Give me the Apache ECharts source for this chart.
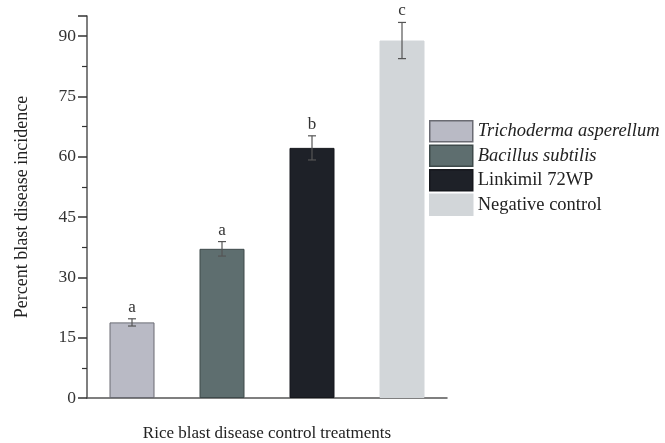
<!DOCTYPE html>
<html><head><meta charset="utf-8">
<script src="https://cdn.jsdelivr.net/npm/echarts@6/dist/echarts.min.js"></script>
<style>html,body{margin:0;padding:0;background:#fff}#c{width:665px;height:443px}</style>
</head><body><div id="c"></div>
<script>
var categories = ['Trichoderma asperellum', 'Bacillus subtilis', 'Linkimil 72WP', 'Negative control'];
var values = [18.8, 37.1, 62.2, 88.9];
var errors = [0.9, 1.8, 3.0, 4.5];
var letters = ['a', 'a', 'b', 'c'];
var colors = ['#b9bac5', '#5e6e6f', '#1e2128', '#d2d6d9'];
var borders = ['#6a6b73', '#3e4a4b', '#15171c', '#d2d6d9'];
var italicNames = [true, true, false, false];
var FONT = 'Liberation Serif';

var series = categories.map(function (name, i) {
  return {
    name: name, type: 'bar', stack: 'all', barWidth: '50%',
    itemStyle: { color: colors[i], borderColor: borders[i], borderWidth: 1 },
    data: values.map(function (v, j) { return j === i ? v : null; })
  };
});
series.push({
  type: 'custom', name: 'err', z: 10,
  data: values.map(function (v, i) { return [i, v - errors[i], v + errors[i], letters[i]]; }),
  encode: { x: 0, y: [1, 2] },
  renderItem: function (params, api) {
    var x = api.value(0);
    var lo = api.coord([x, api.value(1)]);
    var hi = api.coord([x, api.value(2)]);
    var w = 4;
    var st = { stroke: '#555', lineWidth: 1.2 };
    return {
      type: 'group', children: [
        { type: 'line', shape: { x1: hi[0], y1: hi[1], x2: lo[0], y2: lo[1] }, style: st },
        { type: 'line', shape: { x1: hi[0] - w, y1: hi[1], x2: hi[0] + w, y2: hi[1] }, style: st },
        { type: 'line', shape: { x1: lo[0] - w, y1: lo[1], x2: lo[0] + w, y2: lo[1] }, style: st },
        { type: 'text', style: { text: api.value(3), x: hi[0], y: hi[1] - 3, textAlign: 'center', textVerticalAlign: 'bottom', font: '17px "Liberation Serif"', fill: '#333' } }
      ]
    };
  }
});

var chart = echarts.init(document.getElementById('c'));
chart.setOption({
  animation: false,
  backgroundColor: '#fff',
  grid: { left: 87, right: 218, top: 16, bottom: 45, outerBoundsMode: 'none', containLabel: false },
  legend: {
    data: categories, orient: 'vertical', left: 429, top: 120, padding: 0,
    icon: 'rect', itemWidth: 43, itemHeight: 21, itemGap: 2,
    itemStyle: { borderWidth: 1.5 },
    formatter: function (n) { return italicNames[categories.indexOf(n)] ? '{i|' + n + '}' : n; },
    textStyle: { fontFamily: FONT, fontSize: 18.5, lineHeight: 21, color: '#222',
      rich: { i: { fontFamily: FONT, fontSize: 18.5, lineHeight: 21, fontStyle: 'italic', color: '#222' } } }
  },
  xAxis: {
    type: 'category', data: categories,
    name: 'Rice blast disease control treatments', nameLocation: 'middle', nameGap: 27,
    nameTextStyle: { fontFamily: FONT, fontSize: 17, color: '#222' },
    axisLine: { lineStyle: { color: '#555', width: 1.5 } },
    axisTick: { alignWithLabel: true, length: 7, lineStyle: { color: '#333', width: 1.5 } },
    axisLabel: { show: false }
  },
  yAxis: {
    type: 'value', min: 0, max: 95, interval: 15,
    name: 'Percent blast disease incidence', nameLocation: 'middle', nameGap: 56, nameRotate: 90,
    nameTextStyle: { fontFamily: FONT, fontSize: 18, color: '#222' },
    axisLine: { show: true, lineStyle: { color: '#555', width: 1.5 } },
    axisTick: { show: true, length: 9, lineStyle: { color: '#333', width: 1.5 } },
    minorTick: { show: true, splitNumber: 2, length: 5, lineStyle: { color: '#333', width: 1.2 } },
    splitLine: { show: false },
    axisLabel: { fontFamily: FONT, fontSize: 17.5, color: '#333', margin: 11,
      formatter: function (v) { return v % 15 === 0 ? v : ''; } }
  },
  series: series
});
</script></body></html>
